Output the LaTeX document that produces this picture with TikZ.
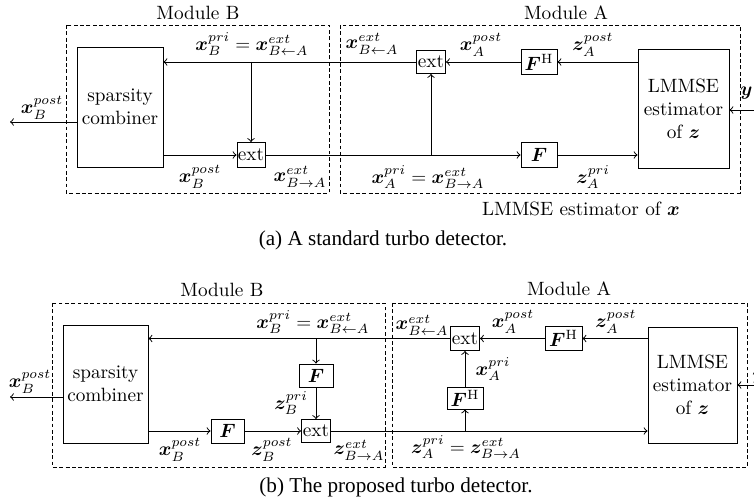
\documentclass[tikz,border=0pt]{standalone}
\usepackage{bm}
\usepackage{fontspec}
\newfontfamily\capfont{Liberation Serif}
\newcommand\pu{0.52pt}
\tikzset{
  blk/.style={draw, line width=0.5pt, inner sep=0pt, align=center},
  modbox/.style={draw, line width=0.4pt, dash pattern=on 2pt off 1.3pt},
  lbl/.style={inner sep=0pt},
  capt/.style={inner sep=0pt, font=\capfont\fontsize{11}{13}\selectfont},
  flow/.style={->, line width=0.5pt}
}
\begin{document}
\begin{tikzpicture}[x=\pu, y=-\pu]
\useasboundingbox (0,0) rectangle (754,504);

% ---------------- (a) standard turbo detector ----------------
\draw[modbox] (66,25) rectangle (329,193);
\draw[modbox] (340,25) rectangle (740,193);
\node[lbl] (modBa) at (198,13) {Module B};
\node[lbl] (modAa) at (566,13) {Module A};

\node[blk, minimum width=86*\pu, minimum height=120*\pu] (combA) at (120,107) {sparsity\\combiner};
\node[blk, minimum width=28*\pu, minimum height=25*\pu] (extBa) at (251,155) {ext};
\node[blk, minimum width=29*\pu, minimum height=23*\pu] (extAa) at (431,62) {ext};
\node[blk, minimum width=36*\pu, minimum height=25*\pu] (FHa) at (539,62) {$\bm F^{\mathrm{H}}$};
\node[blk, minimum width=36*\pu, minimum height=25*\pu] (Fa) at (539,155) {$\bm F$};
\node[blk, minimum width=91*\pu, minimum height=119*\pu] (lmA) at (683.5,108.5) {LMMSE\\estimator\\of $\bm z$};

\coordinate (outA) at (10,122);
\coordinate (yinA) at (770,110);
\coordinate (splitA) at (251,62);

% feedback path A -> B
\draw[flow] (lmA.west |- FHa) -- (FHa.east);
\draw[flow] (FHa.west) -- (extAa.east);
\draw[flow] (extAa.west) -- (extAa.west -| combA.east);
\draw[flow] (splitA) -- (extBa.north);
% forward path B -> A
\draw[flow] (combA.east |- extBa) -- (extBa.west);
\draw[flow] (extBa.east) -- (Fa.west);
\draw[flow] (Fa.east) -- (Fa.east -| lmA.west);
\draw[flow] (extAa.south |- Fa) -- (extAa.south);
% inputs and outputs
\draw[flow] (outA -| combA.west) -- (outA);
\draw[flow] (yinA) -- (yinA -| lmA.east);
\node[lbl, anchor=base west] (ya) at (740,96) {$\bm y$};

\node[lbl] (la1) at (42,108) {$\bm x_B^{post}$};
\node[lbl] (la2) at (252,44) {$\bm x_B^{pri}=\bm x^{ext}_{B\leftarrow A}$};
\node[lbl] (la3) at (372,44) {$\bm x^{ext}_{B\leftarrow A}$};
\node[lbl] (la4) at (481,45) {$\bm x_A^{post}$};
\node[lbl] (la5) at (593,45) {$\bm z_A^{post}$};
\node[lbl] (la6) at (200,177) {$\bm x_B^{post}$};
\node[lbl] (la7) at (300,177) {$\bm x^{ext}_{B\rightarrow A}$};
\node[lbl] (la8) at (428,177) {$\bm x_A^{pri}=\bm x^{ext}_{B\rightarrow A}$};
\node[lbl] (la9) at (593,177) {$\bm z_A^{pri}$};
\node[lbl] (la10) at (581,209) {LMMSE estimator of $\bm x$};
\node[capt] (capa) at (383,240) {(a) A standard turbo detector.};

% ---------------- (b) proposed turbo detector ----------------
\draw[modbox] (52,303) rectangle (385,467);
\draw[modbox] (392,303) rectangle (747,467);
\node[lbl] (modBb) at (222,290) {Module B};
\node[lbl] (modAb) at (569,289) {Module A};

\node[blk, minimum width=85*\pu, minimum height=118*\pu] (combB) at (105.5,384) {sparsity\\combiner};
\node[blk, minimum width=34*\pu, minimum height=23*\pu] (Fup) at (316,375.5) {$\bm F$};
\node[blk, minimum width=29*\pu, minimum height=23*\pu] (extBb) at (316,431) {ext};
\node[blk, minimum width=33*\pu, minimum height=24*\pu] (Flow) at (227.5,431) {$\bm F$};
\node[blk, minimum width=29*\pu, minimum height=24*\pu] (extAb) at (465,338.5) {ext};
\node[blk, minimum width=37*\pu, minimum height=24*\pu] (FHtop) at (563.5,338.5) {$\bm F^{\mathrm{H}}$};
\node[blk, minimum width=36*\pu, minimum height=22*\pu] (FHlow) at (465,398) {$\bm F^{\mathrm{H}}$};
\node[blk, minimum width=89*\pu, minimum height=116*\pu] (lmB) at (692.5,385) {LMMSE\\estimator\\of $\bm z$};

\coordinate (outB) at (10,397);
\coordinate (yinB) at (775,385);
\coordinate (splitB) at (316,338.5);
\coordinate (joinB) at (465,431);

% feedback path A -> B
\draw[flow] (lmB.west |- FHtop) -- (FHtop.east);
\draw[flow] (FHtop.west) -- (extAb.east);
\draw[flow] (extAb.west) -- (extAb.west -| combB.east);
\draw[flow] (splitB) -- (Fup.north);
\draw[flow] (Fup.south) -- (extBb.north);
% forward path B -> A
\draw[flow] (combB.east |- Flow) -- (Flow.west);
\draw[flow] (Flow.east) -- (extBb.west);
\draw[flow] (extBb.east) -- (extBb.east -| lmB.west);
\draw[flow] (joinB) -- (FHlow.south);
\draw[flow] (FHlow.north) -- (extAb.south);
% inputs and outputs
\draw[flow] (outB -| combB.west) -- (outB);
\draw[flow] (yinB) -- (yinB -| lmB.east);
\node[lbl, anchor=base west] (yb) at (752,381) {$\bm y$};

\node[lbl] (lb1) at (30,382) {$\bm x_B^{post}$};
\node[lbl] (lb2) at (313,322) {$\bm x_B^{pri}=\bm x^{ext}_{B\leftarrow A}$};
\node[lbl] (lb3) at (291,403) {$\bm z_B^{pri}$};
\node[lbl] (lb4) at (180,450) {$\bm x_B^{post}$};
\node[lbl] (lb5) at (272,450) {$\bm z_B^{post}$};
\node[lbl] (lb6) at (359,450) {$\bm z^{ext}_{B\rightarrow A}$};
\node[lbl] (lb7) at (422,325) {$\bm x^{ext}_{B\leftarrow A}$};
\node[lbl] (lb8) at (513,322) {$\bm x_A^{post}$};
\node[lbl] (lb9) at (616,322) {$\bm z_A^{post}$};
\node[lbl] (lb10) at (493,369) {$\bm x_A^{pri}$};
\node[lbl] (lb11) at (466,447) {$\bm z_A^{pri}=\bm z^{ext}_{B\rightarrow A}$};
\node[capt] (capb) at (396,487) {(b) The proposed turbo detector.};
\end{tikzpicture}
\end{document}
